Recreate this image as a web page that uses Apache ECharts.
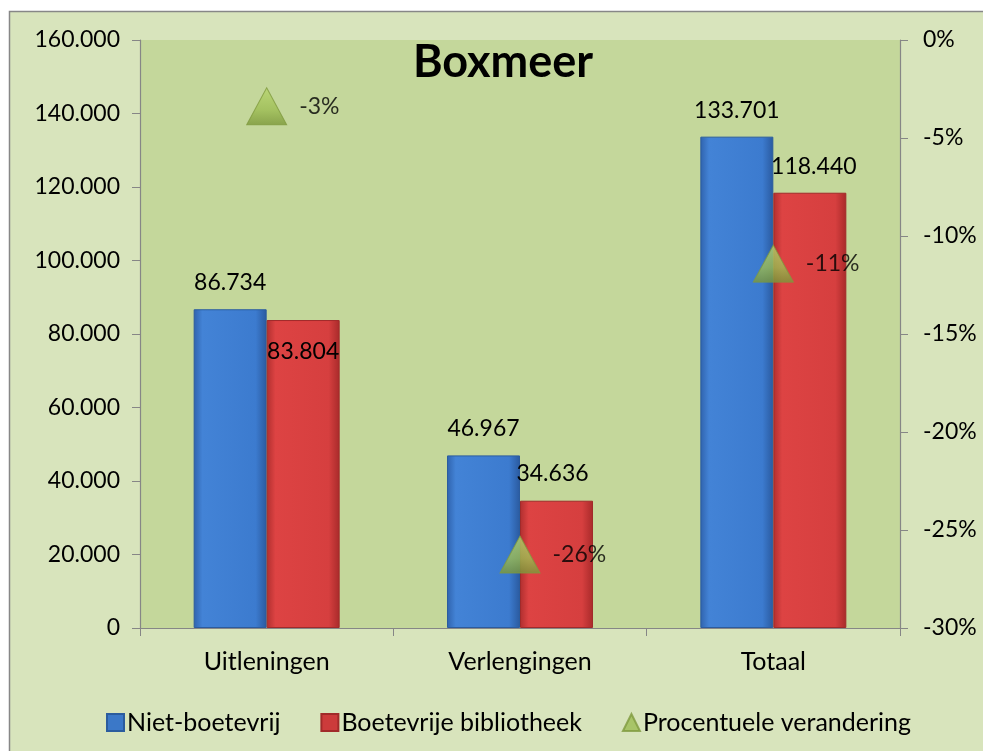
<!DOCTYPE html>
<html>
<head>
<meta charset="utf-8">
<script src="https://cdn.jsdelivr.net/npm/echarts@6/dist/echarts.min.js"></script>
<style>
html,body{margin:0;padding:0;background:#ffffff;}
#chart{width:983px;height:751px;}
</style>
</head>
<body>
<div id="chart"></div>
<script>
// ---- data ----
var categories = ['Uitleningen', 'Verlengingen', 'Totaal'];
var nietBoetevrij = [86734, 46967, 133701];
var boetevrij = [83804, 34636, 118440];
var procentueel = [-3.38, -26.25, -11.41];
var leftTicks = { min: 0, max: 160000, interval: 20000 };
var rightTicks = { min: -30, max: 0, interval: 5 };
var seriesNames = ['Niet-boetevrij', 'Boetevrije bibliotheek', 'Procentuele verandering'];
var titleText = 'Boxmeer';

// ---- styling / layout ----
var FONT = 'Lato';
var FS = 23;
function fmtThousands(v) {
  if (v === 0) return '0';
  var s = Math.round(v).toString();
  return s.replace(/\B(?=(\d{3})+(?!\d))/g, '.');
}
function fmtThousandsFixed(v) {
  if (v === 0) return '0';
  return (v / 1000).toFixed(3);
}
var blueGrad = new echarts.graphic.LinearGradient(0, 0, 1, 0, [
  { offset: 0, color: '#2f63ad' },
  { offset: 0.12, color: '#4383d6' },
  { offset: 0.85, color: '#3c7bcf' },
  { offset: 1, color: '#2a5a9f' }
]);
var redGrad = new echarts.graphic.LinearGradient(0, 0, 1, 0, [
  { offset: 0, color: '#b02f2f' },
  { offset: 0.12, color: '#dd4343' },
  { offset: 0.85, color: '#d63f3f' },
  { offset: 1, color: '#a82a2a' }
]);
var greenGrad = new echarts.graphic.LinearGradient(0, 0, 0, 1, [
  { offset: 0, color: '#b8d66e' },
  { offset: 0.6, color: '#9cbc52' },
  { offset: 1, color: '#7a9638' }
]);

var redLabelOffsets = [[0, 48], [-4, -11], [4, -10]];

var redData = boetevrij.map(function (v, i) {
  return { value: v, label: { offset: redLabelOffsets[i] } };
});

var chart = echarts.init(document.getElementById('chart'), null, { renderer: 'canvas' });
var option = {
  backgroundColor: '#ffffff',
  animation: false,
  graphic: [
    {
      type: 'rect', z: -10, silent: true,
      shape: { x: 9.5, y: 11.5, width: 1000, height: 800 },
      style: { fill: '#d8e4bc', stroke: '#878787', lineWidth: 1.5 }
    }
  ],
  title: {
    text: titleText,
    left: 503, top: 40, textAlign: 'center', padding: 0,
    textStyle: { fontFamily: FONT, fontWeight: 'bold', fontSize: 45, color: '#000' }
  },
  grid: { left: 140, right: 83, top: 40, bottom: 123, show: true, backgroundColor: '#c4d79b', borderWidth: 0 },
  legend: {
    top: 705, left: 101,
    itemWidth: 17, itemHeight: 17, itemGap: 40,
    textStyle: { fontFamily: FONT, fontSize: 25, color: '#000', padding: [0, 0, 0, -2] },
    data: [
      { name: seriesNames[0], icon: 'rect', itemStyle: { color: '#3b78c8' } },
      { name: seriesNames[1], icon: 'rect', itemStyle: { color: '#cc3b3b' } },
      { name: seriesNames[2], icon: 'triangle', itemStyle: { color: '#9cbc52' } }
    ]
  },
  xAxis: {
    type: 'category', data: categories,
    axisLine: { lineStyle: { color: '#868686', width: 1.2 } },
    axisTick: { show: true, length: 8, lineStyle: { color: '#868686' } },
    axisLabel: { fontFamily: FONT, fontSize: 25, color: '#000', margin: 21 }
  },
  yAxis: [
    {
      type: 'value', min: leftTicks.min, max: leftTicks.max, interval: leftTicks.interval,
      splitLine: { show: false },
      axisLine: { show: true, lineStyle: { color: '#868686', width: 1.2 } },
      axisTick: { show: true, length: 8, lineStyle: { color: '#868686' } },
      axisLabel: { fontFamily: FONT, fontSize: FS, color: '#000', margin: 20, formatter: fmtThousandsFixed }
    },
    {
      type: 'value', min: rightTicks.min, max: rightTicks.max, interval: rightTicks.interval,
      position: 'right',
      splitLine: { show: false },
      axisLine: { show: true, lineStyle: { color: '#868686', width: 1.2 } },
      axisTick: { show: true, length: 8, lineStyle: { color: '#868686' } },
      axisLabel: { fontFamily: FONT, fontSize: FS, color: '#000', margin: 23, formatter: function (v) { return v + '%'; } }
    }
  ],
  series: [
    {
      name: seriesNames[0], type: 'bar', data: nietBoetevrij, yAxisIndex: 0,
      barWidth: 73, barGap: '0%',
      itemStyle: { color: blueGrad, borderColor: '#2b5c9e', borderWidth: 1 },
      label: { show: true, position: 'top', offset: [0, -10], fontFamily: FONT, fontSize: FS, color: '#000', formatter: function (p) { return fmtThousands(p.value); } }
    },
    {
      name: seriesNames[1], type: 'bar', data: redData, yAxisIndex: 0,
      barWidth: 73, barGap: '0%',
      itemStyle: { color: redGrad, borderColor: '#a12a2a', borderWidth: 1 },
      label: { show: true, position: 'top', fontFamily: FONT, fontSize: FS, color: '#000', formatter: function (p) { return fmtThousands(p.value); } }
    },
    {
      name: seriesNames[2], type: 'scatter', data: procentueel, yAxisIndex: 1,
      symbol: 'triangle', symbolSize: [40, 37], z: 5,
      itemStyle: { color: greenGrad, borderColor: '#7f9a3f', borderWidth: 1 },
      label: { show: true, position: 'right', distance: 12, fontFamily: FONT, fontSize: FS, color: '#000', formatter: function (p) { return Math.round(p.value) + '%'; } }
    }
  ]
};
chart.setOption(option);
</script>
</body>
</html>
